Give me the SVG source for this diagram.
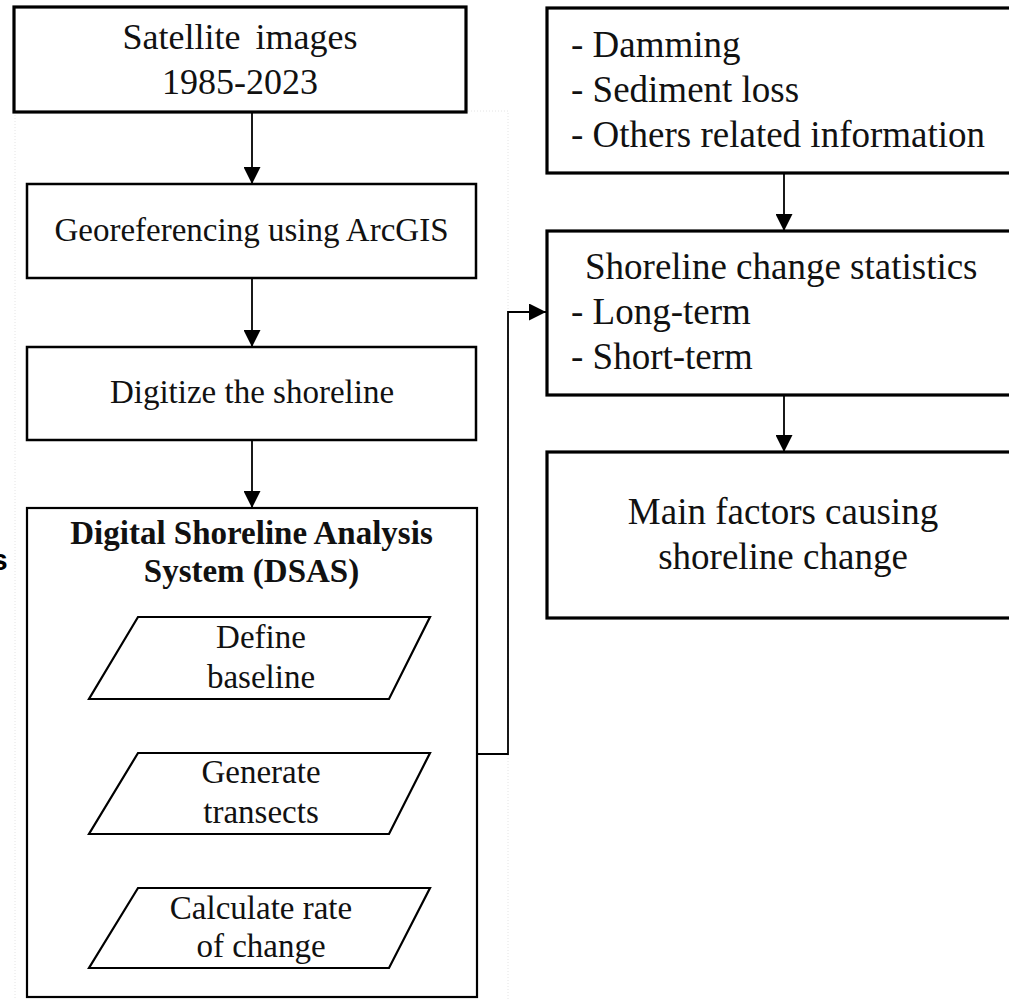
<svg xmlns="http://www.w3.org/2000/svg" width="1009" height="999" viewBox="0 0 1009 999">
<style>
.box{fill:#fff;stroke:#000;}
.t{font-family:'Liberation Serif','DejaVu Serif','Noto Serif',serif;font-size:33px;fill:#111;}
.c{text-anchor:middle;}
.r{font-size:37px;}
.big{font-size:36px;}
.b{font-weight:bold;}
.conn{fill:none;stroke:#000;stroke-width:1.8;}
.faint{fill:none;stroke:#e4e4e4;stroke-width:1;stroke-dasharray:1 2;}
</style>
<defs>
<marker id="ah" markerUnits="userSpaceOnUse" markerWidth="17" markerHeight="17" refX="17" refY="8.5" orient="auto">
<path d="M0,0 L17,8.5 L0,17 z" fill="#000"/>
</marker>
</defs>
<rect width="1009" height="999" fill="#fff"/>
<rect class="faint" x="15" y="111" width="493" height="900"/>
<text x="-9" y="570" font-family="Liberation Sans, Arial, sans-serif" font-weight="bold" font-size="30" fill="#000">s</text>

<g id="connectors">
<line class="conn" x1="252" y1="112" x2="252" y2="184" marker-end="url(#ah)"/>
<line class="conn" x1="252" y1="278" x2="252" y2="347" marker-end="url(#ah)"/>
<line class="conn" x1="252" y1="440" x2="252" y2="508" marker-end="url(#ah)"/>
<line class="conn" x1="261" y1="699" x2="261" y2="753" marker-end="url(#ah)"/>
<line class="conn" x1="261" y1="834" x2="261" y2="888" marker-end="url(#ah)"/>
<polyline class="conn" points="477,754 508,754 508,312 546,312" stroke-width="2.2" marker-end="url(#ah)"/>
<line class="conn" x1="784" y1="173" x2="784" y2="231" marker-end="url(#ah)"/>
<line class="conn" x1="784" y1="395" x2="784" y2="452" marker-end="url(#ah)"/>
</g>

<g id="satellite">
<rect class="box" x="14" y="7" width="452" height="105" stroke-width="3.2"/>
<text class="t big c" x="240" y="49" word-spacing="6">Satellite images</text>
<text class="t big c" x="240" y="94">1985-2023</text>
</g>

<g id="georef">
<rect class="box" x="27" y="184" width="449" height="94" stroke-width="2.5"/>
<text class="t c" x="251.5" y="241">Georeferencing using ArcGIS</text>
</g>

<g id="digitize">
<rect class="box" x="27" y="347" width="449" height="93" stroke-width="2.5"/>
<text class="t c" x="252" y="403">Digitize the shoreline</text>
</g>

<g id="dsas">
<rect class="box" x="27" y="508" width="450" height="489" stroke-width="2.2"/>
<text class="t c b" x="251.5" y="544">Digital Shoreline Analysis</text>
<text class="t c b" x="251.5" y="582">System (DSAS)</text>
</g>

<g id="baseline">
<polygon class="box" points="138,617 430,617 389,699 89,699" stroke-width="2.2"/>
<text class="t c" x="261" y="648">Define</text>
<text class="t c" x="261" y="688">baseline</text>
</g>

<g id="transects">
<polygon class="box" points="138,753 430,753 389,834 89,834" stroke-width="2.2"/>
<text class="t c" x="261" y="783">Generate</text>
<text class="t c" x="261" y="823">transects</text>
</g>

<g id="rate">
<polygon class="box" points="138,888 430,888 389,968 89,968" stroke-width="2.2"/>
<text class="t c" x="261" y="919">Calculate rate</text>
<text class="t c" x="261" y="957">of change</text>
</g>

<g id="factors-info">
<rect class="box" x="547" y="8" width="470" height="165" stroke-width="3.2"/>
<text class="t r" x="571" y="57">- Damming</text>
<text class="t r" x="571" y="102">- Sediment loss</text>
<text class="t r" x="571" y="147">- Others related information</text>
</g>

<g id="statistics">
<rect class="box" x="547" y="231" width="470" height="164" stroke-width="3.2"/>
<text class="t r" x="585" y="279">Shoreline change statistics</text>
<text class="t r" x="571" y="324">- Long-term</text>
<text class="t r" x="571" y="369">- Short-term</text>
</g>

<g id="main-factors">
<rect class="box" x="547" y="452" width="470" height="166" stroke-width="3.2"/>
<text class="t r c" x="783" y="524">Main factors causing</text>
<text class="t r c" x="783" y="569">shoreline change</text>
</g>
</svg>
